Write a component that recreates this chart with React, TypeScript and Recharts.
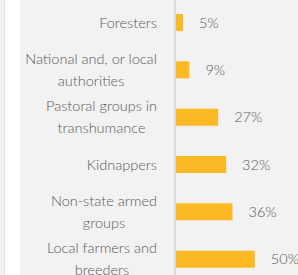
import { Bar, BarChart, LabelList, XAxis, YAxis } from "recharts";

const categoryLines: string[][] = [
  ["Foresters"],
  ["National and, or local", "authorities"],
  ["Pastoral groups in", "transhumance"],
  ["Kidnappers"],
  ["Non-state armed", "groups"],
  ["Local farmers and", "breeders"],
];
const shares = [5, 9, 27, 32, 36, 50];

const data = categoryLines.map((lines, i) => ({
  name: lines.join(" "),
  value: shares[i],
}));

const FONT = "Lato, 'Open Sans', sans-serif";
const FONT_SIZE = 14.5;
const WEIGHT = 300;
const TEXT = "#595959";

let ctx: CanvasRenderingContext2D | null = null;
function measure(s: string) {
  if (!ctx) ctx = document.createElement("canvas").getContext("2d");
  if (!ctx) return s.length * 6.5;
  ctx.font = `${WEIGHT} ${FONT_SIZE}px Lato`;
  return ctx.measureText(s).width;
}

function CategoryTick(props: any) {
  const { x, y, payload } = props;
  const idx = data.findIndex((d) => d.name === payload.value);
  const lines = categoryLines[idx] ?? [String(payload.value)];
  const w = Math.max(...lines.map(measure));
  const cx = x - w / 2;
  const lh = 22;
  const start = -((lines.length - 1) * lh) / 2;
  return (
    <g>
      {lines.map((l, i) => (
        <text
          key={i}
          x={cx}
          y={y + start + i * lh}
          dy={5}
          textAnchor="middle"
          fill={TEXT}
          fontSize={FONT_SIZE}
          fontWeight={WEIGHT}
          fontFamily={FONT}
        >
          {l}
        </text>
      ))}
    </g>
  );
}

export default function App() {
  return (
    <div
      style={{
        position: "fixed",
        left: 0,
        top: 0,
        width: 298,
        height: 275,
        overflow: "hidden",
        background: "#f2f2f2",
      }}
    >
      <div style={{ position: "absolute", left: 4, top: 0, width: 1, height: 275, background: "#e2e2e2" }} />
      <div style={{ position: "absolute", left: 5, top: 0, width: 15, height: 275, background: "#ffffff" }} />
      <div style={{ position: "absolute", left: 0, top: -1 }}>
        <BarChart
          width={298}
          height={284}
          data={data}
          layout="vertical"
          margin={{ top: 0, right: 0, bottom: 0, left: 0 }}
          barSize={17}
        >
          <XAxis type="number" hide domain={[0, 77]} />
          <YAxis
            type="category"
            dataKey="name"
            width={175}
            axisLine={{ stroke: "#d9d9d9", strokeWidth: 2 }}
            tickLine={false}
            tickSize={0}
            tickMargin={18}
            tick={<CategoryTick />}
            interval={0}
          />
          <Bar dataKey="value" fill="#fdb924" isAnimationActive={false}>
            <LabelList
              dataKey="value"
              position="right"
              offset={16}
              fill={TEXT}
              fontSize={FONT_SIZE}
              fontWeight={WEIGHT}
              fontFamily={FONT}
              formatter={(v: any) => `${v}%`}
            />
          </Bar>
        </BarChart>
      </div>
    </div>
  );
}
